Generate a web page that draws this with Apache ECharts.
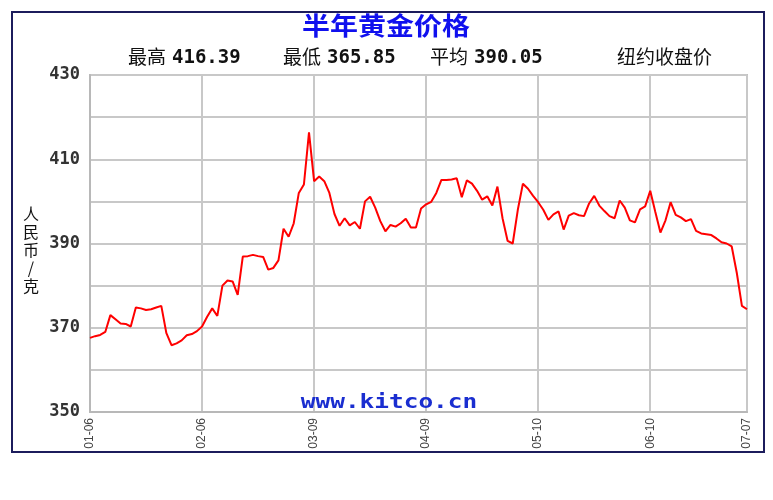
<!DOCTYPE html>
<html>
<head>
<meta charset="utf-8">
<script src="https://cdn.jsdelivr.net/npm/echarts@6/dist/echarts.min.js"></script>
<style>html,body{margin:0;padding:0;background:#fff;}#c{width:773px;height:500px;}</style>
</head>
<body>
<div id="c"></div>
<script>
// ---- data ----
const titleText = '半年黄金价格';
const yAxisName = '人民币/克';
const statHigh = '416.39';
const statLow = '365.85';
const statAvg = '390.05';
const noteText = '纽约收盘价';
const watermark = 'www.kitco.cn';
const tickLabels = ['01-06', '02-06', '03-09', '04-09', '05-10', '06-10', '07-07'];
const tickIndex = [0, 22, 44, 66, 88, 110, 129];
const yTicks = [350, 370, 390, 410, 430];
const prices = [
  367.6, 368.0, 368.3, 369.0, 373.0, 372.0, 371.0, 370.9, 370.3, 374.8,
  374.6, 374.2, 374.4, 374.8, 375.2, 368.7, 365.85, 366.3, 367.0, 368.2,
  368.5, 369.2, 370.3, 372.6, 374.6, 372.8, 380.0, 381.2, 381.0, 377.8,
  386.9, 387.0, 387.3, 387.0, 386.8, 383.8, 384.2, 386.0, 393.5, 391.6,
  394.8, 402.0, 404.0, 416.39, 404.8, 405.9, 404.8, 402.0, 397.0, 394.2,
  396.0, 394.3, 395.1, 393.5, 400.0, 401.1, 398.5, 395.3, 392.9, 394.4,
  394.0, 394.8, 395.9, 393.8, 393.8, 398.3, 399.3, 399.9, 402.0, 405.1,
  405.1, 405.2, 405.5, 401.0, 405.0, 404.2, 402.5, 400.4, 401.2, 399.0,
  403.5, 396.0, 390.6, 390.0, 398.0, 404.2, 403.0, 401.3, 399.8, 398.0,
  395.6, 396.9, 397.6, 393.3, 396.6, 397.2, 396.7, 396.5, 399.5, 401.3,
  399.0, 397.7, 396.5, 396.0, 400.2, 398.5, 395.5, 395.0, 398.1, 398.8,
  402.5, 397.5, 392.6, 395.5, 399.8, 396.8, 396.2, 395.3, 395.8, 393.0,
  392.4, 392.2, 392.0, 391.2, 390.3, 390.0, 389.3, 383.0, 375.2, 374.4
];

// build categories
const categories = prices.map((_, i) => {
  const k = tickIndex.indexOf(i);
  return k >= 0 ? tickLabels[k] : String(i);
});
const isTick = (i) => tickIndex.indexOf(i) >= 0;

const chart = echarts.init(document.getElementById('c'), null, {renderer: 'canvas'});
const mono = '"DejaVu Sans Mono", "Liberation Mono", monospace';
const sans = '"Liberation Sans", Arial, sans-serif';
const cjk = '"Noto Sans CJK SC", sans-serif';

function statText(x, label, value) {
  return [
    {type: 'text', x: x, y: 57, style: {text: label, font: '19px ' + cjk, fill: '#111', textVerticalAlign: 'middle'}, z: 10},
    {type: 'text', x: x + 44, y: 58, style: {text: value, font: 'bold 19px ' + mono, fill: '#111', textVerticalAlign: 'middle'}, z: 10}
  ];
}

chart.setOption({
  animation: false,
  backgroundColor: '#fff',
  grid: {left: 90, right: 26, top: 75, bottom: 88, containLabel: false, show: true, borderColor: '#c0c0c0', borderWidth: 2},
  xAxis: {
    type: 'category',
    data: categories,
    boundaryGap: false,
    axisLine: {show: true, lineStyle: {color: '#b8b8b8', width: 2}},
    axisTick: {show: false},
    axisLabel: {
      interval: (i) => isTick(i),
      rotate: 90,
      margin: 6,
      color: '#444',
      fontFamily: sans,
      fontSize: 12,
      formatter: (v, i) => isTick(i) ? v : ''
    },
    splitLine: {show: true, interval: (i) => isTick(i), lineStyle: {color: '#c8c8c8', width: 2}}
  },
  yAxis: {
    type: 'value',
    min: 350, max: 430, interval: 10,
    axisLine: {show: true, lineStyle: {color: '#b8b8b8', width: 2}},
    axisTick: {show: false},
    axisLabel: {
      margin: 10,
      color: '#333',
      fontFamily: mono,
      fontWeight: 'bold',
      fontSize: 17,
      formatter: (v) => yTicks.indexOf(v) >= 0 ? String(v) : ''
    },
    splitLine: {show: true, lineStyle: {color: '#c8c8c8', width: 2}}
  },
  series: [{
    type: 'line',
    data: prices,
    symbol: 'none',
    lineStyle: {color: '#ff0000', width: 2},
    z: 5
  }],
  graphic: [
    {type: 'rect', shape: {x: 12, y: 12, width: 752, height: 440}, style: {fill: 'none', stroke: '#1c1c5c', lineWidth: 2}, z: 10},
    {type: 'text', x: 386, y: 25, scaleX: 1.12, style: {text: titleText, fill: '#1010ee', font: 'bold 25px ' + cjk, textAlign: 'center', textVerticalAlign: 'middle'}, z: 10},
    ...statText(128, '最高', statHigh),
    ...statText(283, '最低', statLow),
    ...statText(430, '平均', statAvg),
    {type: 'text', x: 617, y: 57, style: {text: noteText, font: '19px ' + cjk, fill: '#111', textVerticalAlign: 'middle'}, z: 10},
    {type: 'text', x: 31, y: 250, style: {text: yAxisName.split('').join('\n'), font: '16px ' + cjk, lineHeight: 18, fill: '#111', textAlign: 'center', textVerticalAlign: 'middle'}, z: 10},
    {type: 'text', x: 389, y: 403, scaleX: 1.22, style: {text: watermark, font: 'bold 20px ' + mono, fill: '#1a2ed0', textAlign: 'center', textVerticalAlign: 'middle'}, z: 10}
  ]
});
</script>
</body>
</html>
